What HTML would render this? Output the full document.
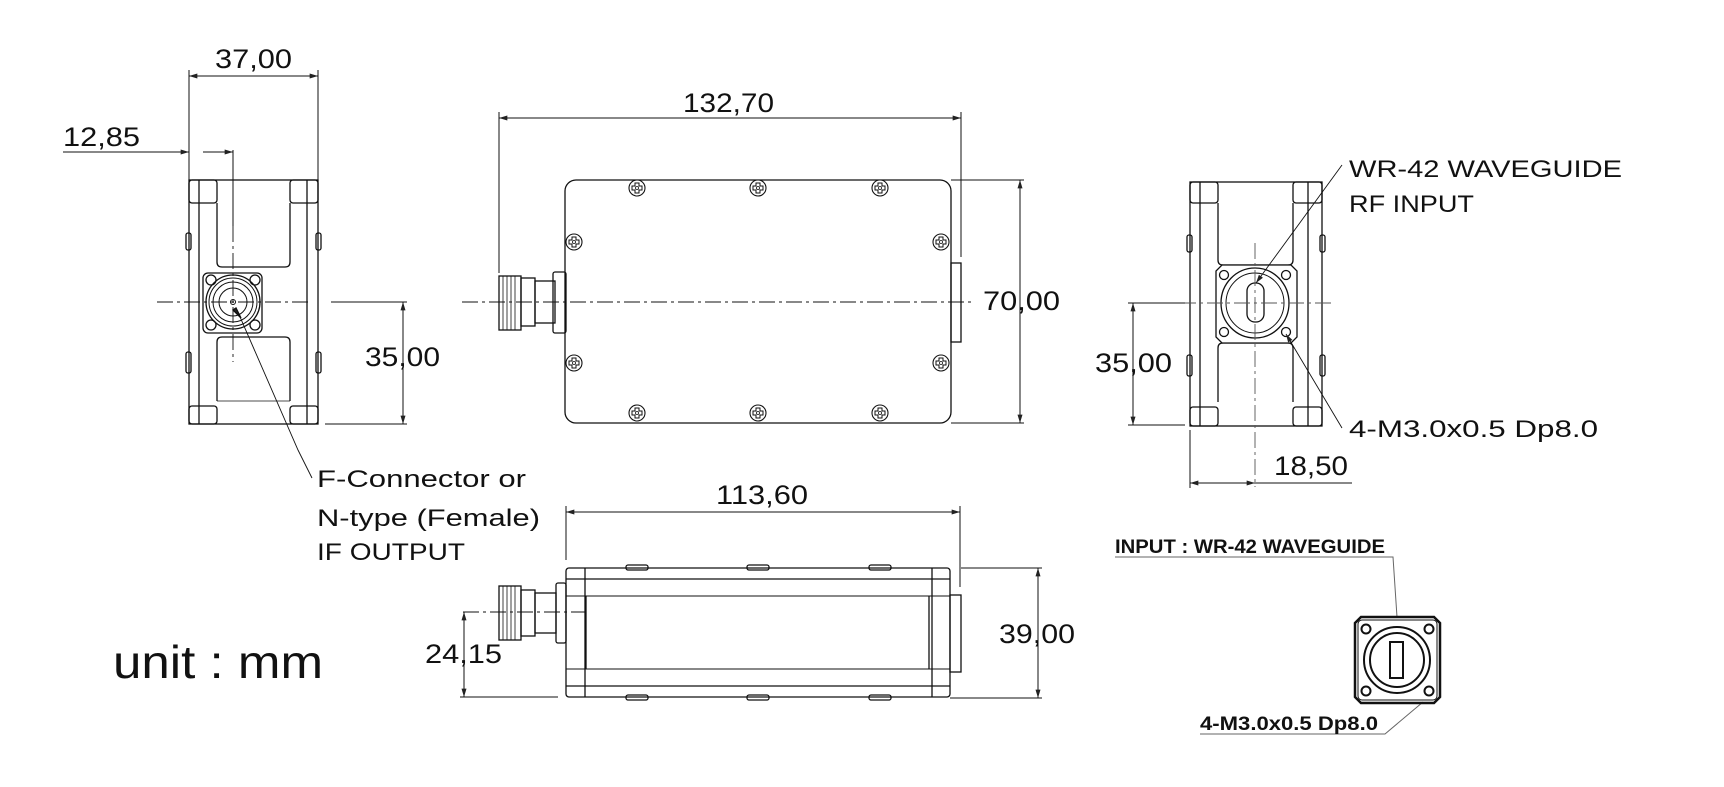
<!DOCTYPE html>
<html><head><meta charset="utf-8"><style>
html,body{margin:0;padding:0;background:#fff;}
svg{display:block;}
text{font-family:"Liberation Sans",sans-serif;fill:#111;}
</style></head><body>
<svg width="1724" height="787" viewBox="0 0 1724 787" xmlns="http://www.w3.org/2000/svg">
<defs>
<marker id="a" viewBox="0 0 10 6" refX="10" refY="3" markerWidth="12" markerHeight="5" markerUnits="userSpaceOnUse" orient="auto-start-reverse"><path d="M0,0L10,3L0,6z" fill="#222"/></marker>
<g id="scr"><circle r="8" fill="#fff" stroke="#111" stroke-width="1.1"/><path d="M-2,-5h4v3h3v4h-3v3h-4v-3h-3v-4h3z" fill="none" stroke="#111" stroke-width="1"/><circle r="1.5" fill="none" stroke="#111" stroke-width="0.8"/></g>
</defs>
<g fill="none" stroke="#111" stroke-width="1.3">
<!-- LEFT VIEW -->
<line x1="189" y1="76" x2="318" y2="76" stroke-width="1" marker-start="url(#a)" marker-end="url(#a)"/>
<line x1="189" y1="70" x2="189" y2="180" stroke-width="1"/>
<line x1="318" y1="70" x2="318" y2="180" stroke-width="1"/>
<line x1="63" y1="152" x2="189" y2="152" stroke-width="1" marker-end="url(#a)"/>
<line x1="203" y1="152" x2="233" y2="152" stroke-width="1" marker-end="url(#a)"/>
<line x1="233" y1="150" x2="233" y2="226" stroke-width="1"/>
<rect x="189" y="180" width="129" height="244"/>
<line x1="199" y1="180" x2="199" y2="424"/><line x1="307" y1="180" x2="307" y2="424"/>
<rect x="189" y="180" width="28" height="23" rx="3"/><rect x="290" y="180" width="28" height="23" rx="3"/>
<rect x="189" y="406" width="28" height="18" rx="3"/><rect x="290" y="406" width="28" height="18" rx="3"/>
<path d="M217,203V262q0,5 5,5H285q5,0 5,-5V203"/>
<path d="M217,401V342q0,-5 5,-5H285q5,0 5,5V401"/>
<line x1="217" y1="401" x2="290" y2="401" stroke-width="0.8"/>
<rect x="186" y="233" width="5" height="17" rx="2"/><rect x="186" y="352" width="5" height="21" rx="2"/>
<rect x="316" y="233" width="5" height="17" rx="2"/><rect x="316" y="352" width="5" height="21" rx="2"/>
<rect x="203" y="273" width="59" height="60" rx="5" fill="#fff"/>
<circle cx="233" cy="302" r="27"/><circle cx="233" cy="302" r="24" stroke-width="1"/><circle cx="233" cy="302" r="20" stroke-width="1"/><circle cx="233" cy="302" r="14" stroke-width="1"/><circle cx="233" cy="302" r="2.5" stroke-width="1"/>
<circle cx="211" cy="280" r="5"/><circle cx="255" cy="280" r="5"/><circle cx="211" cy="325" r="5"/><circle cx="255" cy="325" r="5"/>
<line x1="157" y1="302" x2="310" y2="302" stroke-width="0.9" stroke-dasharray="16,4,3,4"/>
<line x1="233" y1="226" x2="233" y2="362" stroke-width="0.9" stroke-dasharray="16,4,3,4"/>
<line x1="331" y1="302" x2="407" y2="302" stroke-width="1"/>
<line x1="325" y1="424" x2="407" y2="424" stroke-width="1"/>
<line x1="403" y1="302" x2="403" y2="424" stroke-width="1" marker-start="url(#a)" marker-end="url(#a)"/>
<path d="M237,310L298,450L312,478" stroke-width="0.9"/>
<path d="M241,318l-5,-10l-3,2z" fill="#222"/>

<!-- TOP VIEW -->
<line x1="499" y1="118" x2="961" y2="118" stroke-width="1" marker-start="url(#a)" marker-end="url(#a)"/>
<line x1="499" y1="112" x2="499" y2="273" stroke-width="1"/>
<line x1="961" y1="112" x2="961" y2="257" stroke-width="1"/>
<rect x="565" y="180" width="386" height="243" rx="11"/>
<rect x="951" y="263" width="10" height="79"/>
<rect x="499" y="276" width="22" height="54"/>
<line x1="503" y1="276" x2="503" y2="330" stroke-width="0.8"/><line x1="507" y1="276" x2="507" y2="330" stroke-width="0.8"/><line x1="511" y1="276" x2="511" y2="330" stroke-width="0.8"/><line x1="515" y1="276" x2="515" y2="330" stroke-width="0.8"/>
<rect x="521" y="278" width="14" height="48"/>
<rect x="535" y="281" width="20" height="42"/>
<rect x="553" y="272" width="13" height="61" rx="2"/>
<line x1="462" y1="302" x2="975" y2="302" stroke-width="0.9" stroke-dasharray="16,4,3,4"/>
<line x1="951" y1="180" x2="1024" y2="180" stroke-width="1"/>
<line x1="951" y1="423" x2="1024" y2="423" stroke-width="1"/>
<line x1="1020" y1="180" x2="1020" y2="423" stroke-width="1" marker-start="url(#a)" marker-end="url(#a)"/>

<!-- RIGHT VIEW -->
<rect x="1190" y="182" width="132" height="244"/>
<line x1="1200" y1="182" x2="1200" y2="426"/><line x1="1308" y1="182" x2="1308" y2="426"/>
<rect x="1190" y="182" width="28" height="21" rx="3"/><rect x="1293" y="182" width="29" height="21" rx="3"/>
<rect x="1190" y="407" width="28" height="19" rx="3"/><rect x="1293" y="407" width="29" height="19" rx="3"/>
<path d="M1218,203V260q0,5 5,5H1288q5,0 5,-5V203"/>
<path d="M1218,402V348q0,-5 5,-5H1288q5,0 5,5V402"/>
<rect x="1187" y="235" width="5" height="17" rx="2"/><rect x="1187" y="355" width="5" height="21" rx="2"/>
<rect x="1320" y="235" width="5" height="17" rx="2"/><rect x="1320" y="355" width="5" height="21" rx="2"/>
<path d="M1222,265H1291l6,6V337l-6,6H1222l-6,-6V271z" fill="#fff"/>
<ellipse cx="1255" cy="303" rx="34" ry="35"/><ellipse cx="1255" cy="303" rx="29" ry="30" stroke-width="1"/>
<rect x="1247" y="283" width="17" height="39" rx="8"/>
<circle cx="1224" cy="275" r="4.5"/><circle cx="1286" cy="275" r="4.5"/><circle cx="1224" cy="332" r="4.5"/><circle cx="1286" cy="332" r="4.5"/>
<line x1="1180" y1="303" x2="1332" y2="303" stroke-width="0.9" stroke-dasharray="16,4,3,4" stroke="#555"/>
<line x1="1255" y1="243" x2="1255" y2="487" stroke-width="0.9" stroke-dasharray="16,4,3,4" stroke="#555"/>
<line x1="1128" y1="303" x2="1185" y2="303" stroke-width="1"/>
<line x1="1128" y1="425" x2="1185" y2="425" stroke-width="1"/>
<line x1="1133" y1="303" x2="1133" y2="425" stroke-width="1" marker-start="url(#a)" marker-end="url(#a)"/>
<line x1="1190" y1="430" x2="1190" y2="488" stroke-width="1"/>
<line x1="1190" y1="483" x2="1255" y2="483" stroke-width="1" marker-start="url(#a)" marker-end="url(#a)"/>
<line x1="1255" y1="483" x2="1352" y2="483" stroke-width="1"/>
<line x1="1342" y1="165" x2="1256" y2="283" stroke-width="0.9" marker-end="url(#a)"/>
<line x1="1342" y1="428" x2="1286" y2="334" stroke-width="0.9" marker-end="url(#a)"/>

<!-- BOTTOM VIEW -->
<line x1="566" y1="512" x2="960" y2="512" stroke-width="1" marker-start="url(#a)" marker-end="url(#a)"/>
<line x1="566" y1="506" x2="566" y2="560" stroke-width="1"/>
<line x1="960" y1="506" x2="960" y2="587" stroke-width="1"/>
<rect x="566" y="568" width="384" height="129" rx="3"/>
<line x1="566" y1="579" x2="950" y2="579"/><line x1="566" y1="596" x2="950" y2="596" stroke-width="1"/>
<line x1="566" y1="669" x2="950" y2="669" stroke-width="1"/><line x1="566" y1="686" x2="950" y2="686"/>
<line x1="585" y1="568" x2="585" y2="697"/><line x1="932" y1="568" x2="932" y2="697"/>
<line x1="586" y1="596" x2="586" y2="669"/><line x1="929" y1="596" x2="929" y2="669"/>
<rect x="950" y="595" width="11" height="77"/>
<rect x="626" y="565" width="22" height="5" rx="2"/><rect x="747" y="565" width="22" height="5" rx="2"/><rect x="869" y="565" width="22" height="5" rx="2"/>
<rect x="626" y="695" width="22" height="5" rx="2"/><rect x="747" y="695" width="22" height="5" rx="2"/><rect x="869" y="695" width="22" height="5" rx="2"/>
<rect x="499" y="586" width="22" height="54"/>
<line x1="503" y1="586" x2="503" y2="640" stroke-width="0.8"/><line x1="507" y1="586" x2="507" y2="640" stroke-width="0.8"/><line x1="511" y1="586" x2="511" y2="640" stroke-width="0.8"/><line x1="515" y1="586" x2="515" y2="640" stroke-width="0.8"/>
<rect x="521" y="590" width="14" height="46"/>
<rect x="535" y="593" width="21" height="40"/>
<rect x="556" y="583" width="10" height="60" rx="2"/>
<line x1="463" y1="612" x2="585" y2="612" stroke-width="0.9" stroke-dasharray="16,4,3,4"/>
<line x1="460" y1="697" x2="558" y2="697" stroke-width="1"/>
<line x1="464" y1="612" x2="464" y2="697" stroke-width="1" marker-start="url(#a)" marker-end="url(#a)"/>
<line x1="961" y1="568" x2="1042" y2="568" stroke-width="1"/>
<line x1="950" y1="698" x2="1042" y2="698" stroke-width="1"/>
<line x1="1038" y1="568" x2="1038" y2="698" stroke-width="1" marker-start="url(#a)" marker-end="url(#a)"/>

<!-- ICON -->
<path d="M1115,557H1393L1397,617" stroke-width="1" stroke="#666"/>
<path d="M1200,734H1385L1423,702" stroke-width="1" stroke="#666"/>
<path d="M1361,617H1434l6,6V697l-6,6H1361l-6,-6V623z" stroke-width="2.5"/>
<rect x="1358" y="620" width="79" height="80" rx="4" stroke-width="1"/>
<circle cx="1397" cy="660" r="33" stroke-width="2"/><circle cx="1397" cy="660" r="27" stroke-width="2"/>
<rect x="1390" y="642" width="13" height="36" stroke-width="2"/>
<circle cx="1366" cy="629" r="4.5" stroke-width="2"/><circle cx="1429" cy="629" r="4.5" stroke-width="2"/><circle cx="1366" cy="691" r="4.5" stroke-width="2"/><circle cx="1429" cy="691" r="4.5" stroke-width="2"/>
</g>
<use href="#scr" x="637" y="188"/><use href="#scr" x="758" y="188"/><use href="#scr" x="880" y="188"/>
<use href="#scr" x="637" y="413"/><use href="#scr" x="758" y="413"/><use href="#scr" x="880" y="413"/>
<use href="#scr" x="574" y="242"/><use href="#scr" x="941" y="242"/>
<use href="#scr" x="574" y="363"/><use href="#scr" x="941" y="363"/>

<g font-size="27">
<text x="215" y="68" textLength="77" lengthAdjust="spacingAndGlyphs">37,00</text>
<text x="63" y="146" textLength="77" lengthAdjust="spacingAndGlyphs">12,85</text>
<text x="365" y="366" textLength="75" lengthAdjust="spacingAndGlyphs">35,00</text>
<text x="683" y="112" textLength="91" lengthAdjust="spacingAndGlyphs">132,70</text>
<text x="983" y="310" textLength="77" lengthAdjust="spacingAndGlyphs">70,00</text>
<text x="1095" y="372" textLength="77" lengthAdjust="spacingAndGlyphs">35,00</text>
<text x="1274" y="475" textLength="74" lengthAdjust="spacingAndGlyphs">18,50</text>
<text x="716" y="504" textLength="92" lengthAdjust="spacingAndGlyphs">113,60</text>
<text x="425" y="663" textLength="77" lengthAdjust="spacingAndGlyphs">24,15</text>
<text x="999" y="643" textLength="76" lengthAdjust="spacingAndGlyphs">39,00</text>
</g>
<g font-size="24">
<text x="1349" y="177" textLength="273" lengthAdjust="spacingAndGlyphs">WR-42 WAVEGUIDE</text>
<text x="1349" y="212" textLength="125" lengthAdjust="spacingAndGlyphs">RF INPUT</text>
<text x="1349" y="437" textLength="249" lengthAdjust="spacingAndGlyphs">4-M3.0x0.5 Dp8.0</text>
<text x="317" y="487" textLength="209" lengthAdjust="spacingAndGlyphs">F-Connector or</text>
<text x="317" y="526" textLength="223" lengthAdjust="spacingAndGlyphs">N-type (Female)</text>
<text x="317" y="560" textLength="148" lengthAdjust="spacingAndGlyphs">IF OUTPUT</text>
</g>
<text x="113" y="678" font-size="46" textLength="210" lengthAdjust="spacingAndGlyphs">unit : mm</text>
<text x="1115" y="553" font-size="19" font-weight="bold" fill="#333" textLength="270" lengthAdjust="spacingAndGlyphs">INPUT : WR-42 WAVEGUIDE</text>
<text x="1200" y="730" font-size="19" font-weight="bold" fill="#333" textLength="178" lengthAdjust="spacingAndGlyphs">4-M3.0x0.5 Dp8.0</text>
</svg>
</body></html>
